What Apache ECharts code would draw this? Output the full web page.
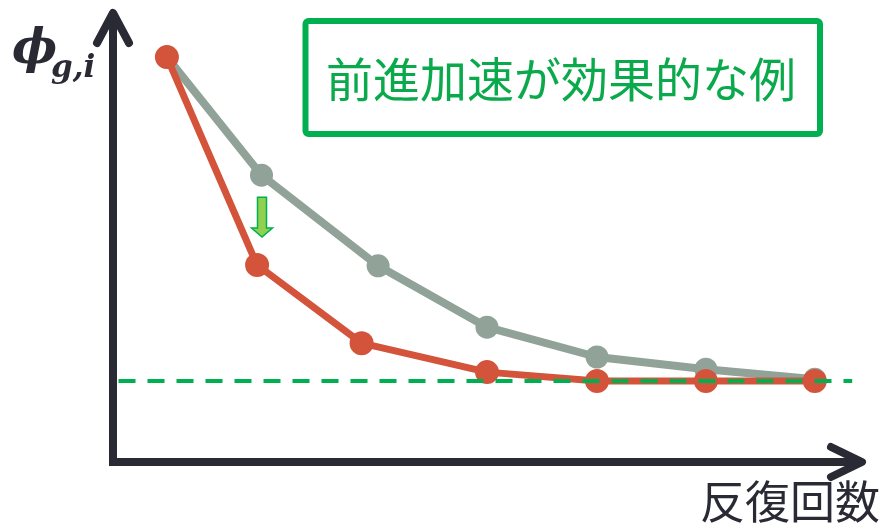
<!DOCTYPE html>
<html>
<head>
<meta charset="utf-8">
<script src="https://cdn.jsdelivr.net/npm/echarts@6/dist/echarts.min.js"></script>
<style>html,body{margin:0;padding:0;background:#fff;}#c{width:886px;height:529px;}</style>
</head>
<body>
<div id="c"></div>
<script>
// Iteration positions (x) and phi values (y)
const grayX = [0.49, 1.35, 2.41, 3.40, 4.40, 5.39, 6.38];
const grayY = [9.64, 6.83, 4.67, 3.21, 2.50, 2.21, 1.97];
const redX  = [0.49, 1.31, 2.26, 3.40, 4.40, 5.39, 6.38];
const redY  = [9.64, 4.69, 2.83, 2.14, 1.93, 1.93, 1.93];
const convX = [0.05, 6.72];
const convY = [1.93, 1.93];
const titleText = '前進加速が効果的な例';
const xLabel = '反復回数';

const DARK = '#2a2a35', GRAY = '#91a398', RED = '#d3543a', GREEN = '#00b050';
const zip = (a, b) => a.map((v, i) => [v, b[i]]);

const chart = echarts.init(document.getElementById('c'));
chart.setOption({
  animation: false,
  grid: { left: 113, bottom: 67, top: 42, width: 770 },
  xAxis: { type: 'value', min: 0, max: 7, show: false },
  yAxis: { type: 'value', min: 0, max: 10, show: false },
  series: [
    { type: 'line', data: zip(grayX, grayY), symbol: 'circle', symbolSize: 23,
      lineStyle: { color: GRAY, width: 8 }, itemStyle: { color: GRAY }, z: 2 },
    { type: 'line', data: zip(redX, redY), symbol: 'circle', symbolSize: 24,
      lineStyle: { color: RED, width: 7 }, itemStyle: { color: RED }, z: 3 },
    { type: 'line', data: zip(convX, convY), symbol: 'none',
      lineStyle: { color: GREEN, width: 4, type: [17, 12] }, z: 4 }
  ]
});

const o = chart.convertToPixel({ gridIndex: 0 }, [0, 0]);
const g1 = chart.convertToPixel({ gridIndex: 0 }, [grayX[1], grayY[1]]);
const r1 = chart.convertToPixel({ gridIndex: 0 }, [redX[1], redY[1]]);
const ax = g1[0] + 0.5, aTop = g1[1] + 22, aTip = r1[1] - 28, aNeck = aTip - 9;

chart.setOption({
  graphic: [
    // y axis
    { type: 'polyline', shape: { points: [[o[0], o[1] + 4], [o[0], 16]] },
      style: { stroke: DARK, lineWidth: 8, fill: null }, z: 10 },
    { type: 'polyline', shape: { points: [[o[0] - 16, 43], [o[0], 13], [o[0] + 16, 43]] },
      style: { stroke: DARK, lineWidth: 8, fill: null, lineCap: 'round', lineJoin: 'round' }, z: 10 },
    // x axis
    { type: 'polyline', shape: { points: [[o[0] - 4, o[1]], [859, o[1]]] },
      style: { stroke: DARK, lineWidth: 8, fill: null }, z: 10 },
    { type: 'polyline', shape: { points: [[831, o[1] - 15], [862, o[1]], [831, o[1] + 15]] },
      style: { stroke: DARK, lineWidth: 8, fill: null, lineCap: 'round', lineJoin: 'round' }, z: 10 },
    // axis labels
    { type: 'text', left: 12, top: 27, z: 10,
      style: { text: 'ϕ', font: 'italic bold 48px "DejaVu Serif"', fill: DARK } },
    { type: 'text', left: 51, top: 53, z: 10,
      style: { text: 'g,i', font: 'italic bold 31px "DejaVu Serif"', fill: DARK } },
    { type: 'text', left: 700, top: 479, z: 10,
      style: { text: xLabel, font: '45px "Noto Sans CJK JP"', fill: DARK } },
    // title box
    { type: 'rect', shape: { x: 305.5, y: 21, width: 514.5, height: 113, r: 3 },
      style: { stroke: GREEN, lineWidth: 6, fill: '#fff' }, z: 10 },
    { type: 'text', x: 561, y: 79, z: 11,
      style: { text: titleText, font: '47px "Noto Sans CJK JP"', fill: '#0aaa4c',
        textAlign: 'center', textVerticalAlign: 'middle' } },
    // green down arrow
    { type: 'polygon', z: 10,
      shape: { points: [[ax - 4.5, aTop], [ax + 4.5, aTop], [ax + 4.5, aNeck], [ax + 10.5, aNeck],
        [ax, aTip], [ax - 10.5, aNeck], [ax - 4.5, aNeck]] },
      style: { fill: '#92d050', stroke: GREEN, lineWidth: 1.5 } }
  ]
});
</script>
</body>
</html>
